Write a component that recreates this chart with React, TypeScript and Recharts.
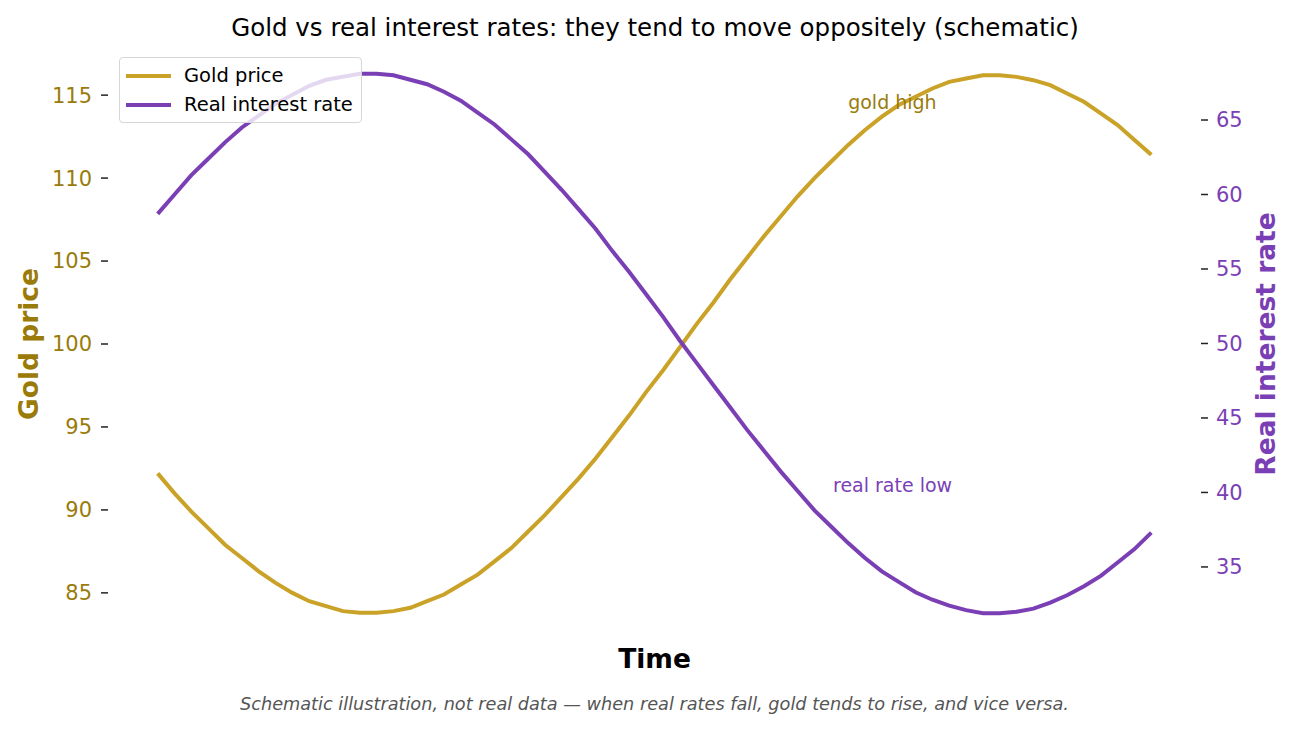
import React from 'react';
import { LineChart, Line, XAxis, YAxis, ReferenceDot } from 'recharts';

// schematic curves at 60 evenly spaced steps
const goldPrice = [
  92.2, 91.0, 89.9, 88.9, 87.9, 87.1, 86.3, 85.6, 85.0, 84.5,
  84.2, 83.9, 83.8, 83.8, 83.9, 84.1, 84.5, 84.9, 85.5, 86.1,
  86.9, 87.7, 88.7, 89.7, 90.8, 91.9, 93.1, 94.4, 95.7, 97.1,
  98.4, 99.8, 101.2, 102.5, 103.9, 105.2, 106.5, 107.7, 108.9, 110.0,
  111.0, 112.0, 112.9, 113.7, 114.4, 114.9, 115.4, 115.8, 116.0, 116.2,
  116.2, 116.1, 115.9, 115.6, 115.1, 114.6, 113.9, 113.2, 112.3, 111.4,
];

const realRate = [
  58.7, 60.0, 61.3, 62.4, 63.5, 64.5, 65.3, 66.1, 66.7, 67.3,
  67.7, 67.9, 68.1, 68.1, 68.0, 67.7, 67.4, 66.9, 66.3, 65.5,
  64.7, 63.7, 62.7, 61.5, 60.3, 59.0, 57.7, 56.2, 54.8, 53.3,
  51.8, 50.2, 48.7, 47.2, 45.7, 44.2, 42.8, 41.4, 40.1, 38.8,
  37.7, 36.6, 35.6, 34.7, 34.0, 33.3, 32.8, 32.4, 32.1, 31.9,
  31.9, 32.0, 32.2, 32.6, 33.1, 33.7, 34.4, 35.3, 36.2, 37.3,
];

const goldTicks = [85, 90, 95, 100, 105, 110, 115];
const rateTicks = [35, 40, 45, 50, 55, 60, 65];

const GOLD = '#C9A227';
const GOLD_DARK = '#9A7B0A';
const PURPLE = '#7B3FB5';
const FONT = '"DejaVu Sans", sans-serif';

const data = goldPrice.map((g, i) => ({ t: i, gold: g, rate: realRate[i] }));

const legendItems = [
  { label: 'Gold price', color: GOLD },
  { label: 'Real interest rate', color: PURPLE },
];

// drawn on top of the svg like matplotlib's semi-transparent legend frame
const LegendBox = () => (
  <div
    style={{
      position: 'absolute',
      left: 119,
      top: 57,
      border: '1.5px solid #d6d6d6',
      borderRadius: 4,
      background: 'rgba(255,255,255,0.8)',
      padding: '3px 8px 3px 6px',
      fontSize: 19.5,
      lineHeight: '29px',
      color: '#000',
    }}
  >
    {legendItems.map((it) => (
      <div key={it.label} style={{ display: 'flex', alignItems: 'center' }}>
        <span style={{ display: 'inline-block', width: 45, height: 4, background: it.color, marginRight: 13 }} />
        <span>{it.label}</span>
      </div>
    ))}
  </div>
);

export default function App() {
  return (
    <div style={{ position: 'absolute', left: 0, top: 0, width: 1295, height: 730, background: '#fff', fontFamily: FONT }}>
      <div style={{ position: 'absolute', left: 0, top: 13, width: 1310, textAlign: 'center', fontSize: 24.5, color: '#000' }}>
        Gold vs real interest rates: they tend to move oppositely (schematic)
      </div>

      <LineChart width={1295} height={730} data={data} margin={{ top: 48.5, right: 0, bottom: 90.5, left: 0 }}>
        <XAxis dataKey="t" type="number" domain={[-2.95, 61.95]} hide />
        <YAxis
          yAxisId="gold"
          orientation="left"
          width={108}
          domain={[82.19, 117.81]}
          ticks={goldTicks}
          axisLine={false}
          tickSize={7}
          tickMargin={9}
          tickLine={{ stroke: '#222', strokeWidth: 1.5 }}
          tick={{ fill: GOLD_DARK, fontSize: 21, fontFamily: FONT }}
        />
        <YAxis
          yAxisId="rate"
          orientation="right"
          width={94}
          domain={[30.13, 69.8]}
          ticks={rateTicks}
          axisLine={false}
          tickSize={7}
          tickMargin={8}
          tickLine={{ stroke: '#222', strokeWidth: 1.5 }}
          tick={{ fill: PURPLE, fontSize: 21, fontFamily: FONT }}
        />
        <Line yAxisId="gold" dataKey="gold" name="Gold price" type="linear" stroke={GOLD} strokeWidth={4} dot={false} isAnimationActive={false} />
        <Line yAxisId="rate" dataKey="rate" name="Real interest rate" type="linear" stroke={PURPLE} strokeWidth={4} dot={false} isAnimationActive={false} />
        <ReferenceDot
          yAxisId="gold"
          x={41}
          y={114.6}
          r={0}
          label={{ value: 'gold high', position: 'right', offset: 0, fill: GOLD_DARK, fontSize: 19, fontFamily: FONT }}
        />
        <ReferenceDot
          yAxisId="rate"
          x={40.1}
          y={40.5}
          r={0}
          label={{ value: 'real rate low', position: 'right', offset: 0, fill: PURPLE, fontSize: 19, fontFamily: FONT }}
        />
      </LineChart>

      <LegendBox />

      <div
        style={{
          position: 'absolute', left: 28, top: 344, transform: 'translate(-50%, -50%) rotate(-90deg)',
          fontSize: 26.5, fontWeight: 'bold', color: GOLD_DARK, whiteSpace: 'nowrap',
        }}
      >
        Gold price
      </div>
      <div
        style={{
          position: 'absolute', left: 1265, top: 344, transform: 'translate(-50%, -50%) rotate(-90deg)',
          fontSize: 26.5, fontWeight: 'bold', color: PURPLE, whiteSpace: 'nowrap',
        }}
      >
        Real interest rate
      </div>
      <div style={{ position: 'absolute', left: 0, top: 643, width: 1309, textAlign: 'center', fontSize: 26.5, fontWeight: 'bold', color: '#000' }}>
        Time
      </div>
      <div style={{ position: 'absolute', left: 0, top: 694, width: 1309, textAlign: 'center', fontSize: 17.7, fontStyle: 'italic', color: '#555' }}>
        Schematic illustration, not real data — when real rates fall, gold tends to rise, and vice versa.
      </div>
    </div>
  );
}
